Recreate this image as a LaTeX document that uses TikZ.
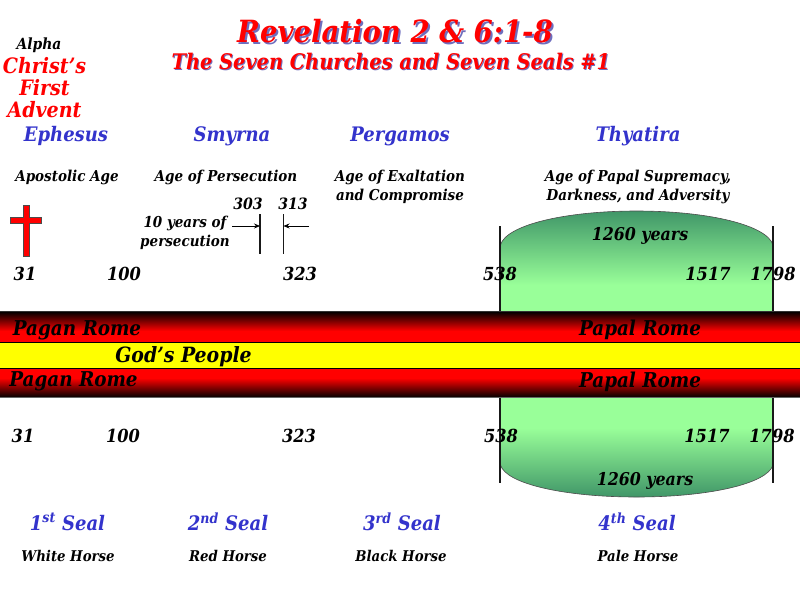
\documentclass[tikz,border=0pt]{standalone}
\usepackage{fontspec}
\setmainfont{DejaVu Serif Condensed}
\usetikzlibrary{arrows.meta}
\definecolor{sealblue}{RGB}{51,51,204}
\definecolor{topgreen}{RGB}{64,150,104}
\definecolor{lightgreen}{RGB}{153,255,153}
\definecolor{shadowblue}{RGB}{110,110,190}
\definecolor{barred}{RGB}{255,0,0}
\definecolor{baryellow}{RGB}{255,255,0}
\definecolor{barblack}{RGB}{0,0,0}
\newcommand{\tf}[2]{\fontsize{#1}{#2}\selectfont\bfseries\itshape}
\tikzset{
 x=1pt,y=-1pt,
 txt/.style={inner sep=0pt,align=center,text=black},
 yr/.style={txt,font=\tf{18}{20}},
 small yr/.style={txt,font=\tf{15.6}{18}},
 age/.style={txt,font=\tf{15}{19}},
 church/.style={txt,font=\tf{20}{22},text=sealblue},
 seal/.style={txt,font=\tf{20}{22},text=sealblue},
 horse/.style={txt,font=\tf{14.8}{16}},
 rome/.style={txt,font=\tf{20.4}{22}},
 red1/.style={txt,font=\tf{21.2}{22},text=barred},
 span/.style={txt,font=\tf{17.6}{18}},
 bar/.style={draw=black,line width=.5pt},
 tick/.style={draw=black!90,line width=1.2pt},
}
\begin{document}
\begin{tikzpicture}
\useasboundingbox (0,0) rectangle (800,600);
\fill[white] (0,0) rectangle (800,600);
% title
\node[txt,font=\tf{30.6}{32},text=shadowblue] at (397,33) {Revelation 2 \& 6:1-8};
\node[txt,font=\tf{30.6}{32},text=barred] (title) at (395,31.5) {Revelation 2 \& 6:1-8};
\node[txt,font=\tf{21.5}{24},text=shadowblue] at (392,62) {The Seven Churches and Seven Seals \#1};
\node[txt,font=\tf{21.5}{24},text=barred] (sub) at (391,61) {The Seven Churches and Seven Seals \#1};
% left
\node[txt,font=\tf{15.4}{16}] (alpha) at (39,45) {Alpha};
\node[red1] (c1) at (44.5,66) {Christ’s};
\node[red1] (c2) at (44.5,88) {First};
\node[red1] (c3) at (44.5,110) {Advent};
% churches
\node[church] (eph) at (66,136) {Ephesus};
\node[church] (smy) at (232,136) {Smyrna};
\node[church] (per) at (400,136) {Pergamos};
\node[church] (thy) at (638,136) {Thyatira};
% ages
\node[age] (a1) at (67,177.5) {Apostolic Age};
\node[age] (a2) at (226,177.5) {Age of Persecution};
\node[age] (a3) at (400,186.5) {Age of Exaltation\\and Compromise};
\node[age] (a4) at (638,186.5) {Age of Papal Supremacy,\\Darkness, and Adversity};
% cross
\fill[barred,draw=black!70,line width=.7pt] (23,205) -- (29,205) -- (29,217) -- (41,217) -- (41,223) -- (29,223) -- (29,256) -- (23,256) -- (23,223) -- (10,223) -- (10,217) -- (23,217) -- cycle;
% 303/313
\node[small yr] (y303) at (248,204) {303};
\node[small yr] (y313) at (293,204) {313};
\node[age] (ten) at (185,233) {10 years of\\persecution};
\coordinate (t1a) at (260,214); \coordinate (t1b) at (260,254);
\coordinate (t2a) at (283.5,214); \coordinate (t2b) at (283.5,254);
\draw[tick] (t1a) -- (t1b);
\draw[tick] (t2a) -- (t2b);
\coordinate (ar1) at (232,226); \coordinate (ar1e) at (t1a|-ar1);
\coordinate (ar2) at (309,226); \coordinate (ar2e) at (t2a|-ar2);
\draw[-{Stealth[length=6pt,width=5pt]},line width=.7pt] (ar1) -- (ar1e);
\draw[-{Stealth[length=6pt,width=5pt]},line width=.7pt] (ar2) -- (ar2e);
% green upper
\fill[lightgreen] (500.5,284) rectangle (773,312);
\path[top color=topgreen,bottom color=lightgreen] (500.5,285) -- (500.5,245) .. controls (506,225) and (565,211) .. (636.5,211) .. controls (708,211) and (767,225) .. (773,245) -- (773,285) -- cycle;
\draw[black!70,line width=.6pt] (500.5,245) .. controls (506,225) and (565,211) .. (636.5,211) .. controls (708,211) and (767,225) .. (773,245);
% green lower
\fill[lightgreen] (500.5,397) rectangle (773,429);
\path[top color=lightgreen,bottom color=topgreen] (500.5,428) -- (500.5,465) .. controls (506,484) and (565,497) .. (636.5,497) .. controls (708,497) and (767,484) .. (773,465) -- (773,428) -- cycle;
\draw[black!70,line width=.6pt] (500.5,465) .. controls (506,484) and (565,497) .. (636.5,497) .. controls (708,497) and (767,484) .. (773,465);
\draw[tick] (500,226) -- (500,312);
\draw[tick] (773,226) -- (773,312);
\draw[tick] (500,397) -- (500,483);
\draw[tick] (773,397) -- (773,483);
\node[span] (g1) at (640,236) {1260 years};
\node[span] (g2) at (645,481) {1260 years};
% years upper
\node[yr] at (25,274) {31};
\node[yr] at (124,274) {100};
\node[yr] at (300,274) {323};
\node[yr] at (500,274) {538};
\node[yr] at (708,274) {1517};
\node[yr] at (773,274) {1798};
% years lower
\node[yr] at (23,436) {31};
\node[yr] at (123,436) {100};
\node[yr] at (299,436) {323};
\node[yr] at (501,436) {538};
\node[yr] at (707,436) {1517};
\node[yr] at (772,436) {1798};
% bars
\path[top color=barblack,bottom color=barred] (0,311.5) rectangle (800,331);
\fill[barred] (0,330.5) rectangle (800,342);
\fill[baryellow] (0,342) rectangle (800,368);
\fill[barred] (0,368) rectangle (800,378.5);
\path[top color=barred,bottom color=barblack] (0,378) rectangle (800,397.5);
\draw[bar] (0,342) -- (800,342);
\draw[bar] (0,368) -- (800,368);
\draw[black!80,line width=.8pt] (0,311.5) -- (800,311.5);
\draw[black!60,line width=.8pt] (0,397.5) -- (800,397.5);
\node[rome] at (77,330) {Pagan Rome};
\node[rome] at (73.5,381) {Pagan Rome};
\node[rome] at (640,330) {Papal Rome};
\node[rome] at (640,381.5) {Papal Rome};
\node[rome,font=\tf{21}{22}] at (183.5,356.5) {God’s People};
% seals
\node[seal] (s1) at (67.5,522) {1\textsuperscript{st} Seal};
\node[seal] (s2) at (228,522) {2\textsuperscript{nd} Seal};
\node[seal] (s3) at (402,522) {3\textsuperscript{rd} Seal};
\node[seal] (s4) at (637,522) {4\textsuperscript{th} Seal};
\node[horse] (h1) at (68,556) {White Horse};
\node[horse] (h2) at (228,556) {Red Horse};
\node[horse] (h3) at (401,556) {Black Horse};
\node[horse] (h4) at (638,556) {Pale Horse};
\end{tikzpicture}
\end{document}
